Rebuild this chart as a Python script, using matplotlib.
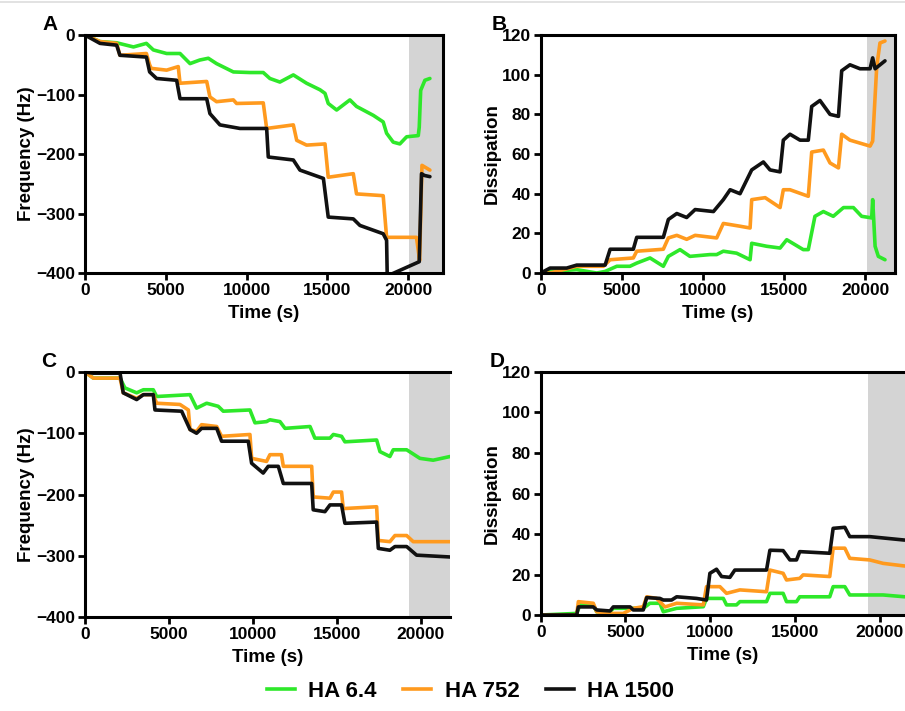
import matplotlib
matplotlib.use("Agg")
import matplotlib.pyplot as plt
from matplotlib.lines import Line2D

plt.rcParams['font.family'] = ['Liberation Sans', 'DejaVu Sans']
plt.rcParams['font.weight'] = 'bold'

GREEN = '#2ee82a'
ORANGE = '#ff9a1e'
BLACK = '#111111'
SHADE = '#d4d4d4'

# ---------------- Panel A : frequency ----------------
a_green_t = [0, 930, 1960, 3000, 3800, 4230, 5050, 5880, 6500, 7100, 7630, 8140, 9180, 10200,
             11030, 11440, 12060, 12890, 13710, 14540, 14850, 15050, 15570, 16390, 16800,
             17840, 18450, 18660, 19070, 19480, 19900, 20620, 20680, 20770, 21030, 21340]
a_green_f = [0, -11, -13, -20, -14, -25, -31, -31, -48, -42, -39, -48, -62, -63,
             -63, -73, -79, -67, -81, -92, -98, -115, -126, -109, -120,
             -135, -146, -165, -180, -183, -171, -169, -155, -93, -76, -73]

a_orange_t = [0, 930, 1960, 2160, 3800, 4000, 4100, 5050, 5770, 5880, 7530, 7730, 8140, 9180,
              9380, 11030, 11240, 12890, 13100, 13710, 14850, 15050, 16600, 16800, 18450,
              18660, 20510, 20620, 20700, 20850, 21340]
a_orange_f = [0, -11, -14, -34, -31, -50, -56, -59, -53, -81, -78, -104, -112, -109,
              -115, -114, -157, -151, -177, -185, -183, -239, -233, -267, -270,
              -340, -340, -362, -379, -219, -227]

a_black_t = [0, 930, 1960, 2160, 3800, 4000, 4430, 5670, 5880, 7530, 7730, 8350, 9590, 11240,
             11340, 12890, 13300, 14750, 15050, 16600, 17010, 18450, 18660, 18700, 20680,
             20820, 21000, 21340]
a_black_f = [0, -14, -17, -34, -37, -62, -73, -76, -107, -107, -132, -151, -157, -157,
             -205, -210, -227, -241, -306, -309, -320, -334, -345, -405, -381,
             -233, -236, -238]

# ---------------- Panel B : dissipation ----------------
b_green_t = [0, 575, 2220, 3450, 3970, 4690, 5500, 5920, 6740, 7560, 7870, 8590, 9200, 10440,
             10850, 11260, 12080, 12910, 13010, 13930, 14760, 15170, 16190, 16500, 16910,
             17430, 18040, 18670, 19280, 19790, 20410, 20470, 20620, 20820, 21230]
b_green_d = [0, 0.8, 1.7, 0, 0.8, 3.4, 3.4, 5, 7.6, 3.4, 8.4, 11.8, 8.4, 9.3,
             9.3, 11, 10, 6.7, 15, 13.5, 12.6, 16.8, 11.8, 11.8, 28.6,
             31, 28.6, 33, 33, 28.6, 27.8, 37, 13.5, 8.4, 6.7]

b_orange_t = [0, 575, 2220, 3860, 4280, 5710, 5920, 7560, 7870, 8390, 9000, 9520, 10850, 11260,
              12290, 12910, 13010, 13840, 14760, 14960, 15370, 16500, 16710, 17430, 17840,
              18360, 18560, 19070, 20310, 20470, 20720, 20920, 21230]
b_orange_d = [0, 0, 3.4, 3.4, 6.7, 7.6, 11, 12, 17.7, 19, 17, 19, 17.7, 25,
              23.6, 22.7, 37, 38, 33, 42, 42, 38.7, 61, 62, 55.5,
              53, 70, 67, 64, 66.5, 104, 116, 117]

b_black_t = [0, 575, 1600, 2220, 3450, 3970, 4280, 5710, 5920, 7560, 7870, 8390, 9000, 9520,
             10650, 11260, 11680, 12290, 13010, 13730, 14140, 14760, 14960, 15370, 15990,
             16500, 16710, 17220, 17840, 18360, 18560, 19070, 19690, 20310, 20470, 20620, 21230]
b_black_d = [0, 2.5, 2.5, 4, 4, 4, 12, 12, 18, 18, 27, 30, 28, 32,
             31, 37, 42, 40, 52, 56, 52, 51, 67, 70, 67,
             67, 84, 87, 80, 79, 102, 105, 103, 103, 108.5, 103, 107]

# ---------------- Panel C : frequency ----------------
c_green_t = [0, 500, 2090, 2380, 3080, 3480, 4070, 4270, 6260, 6650, 7250, 7940, 8240, 9830,
             10130, 10820, 11020, 11620, 11920, 13410, 13700, 14600, 14800, 15290, 15490,
             17380, 17580, 18170, 18370, 19170, 19960, 20750, 21750]
c_green_f = [0, -10, -10, -26, -34, -29, -29, -40, -37, -59, -51, -56, -64, -62,
             -83, -81, -78, -81, -92, -89, -108, -108, -102, -105, -114,
             -111, -130, -138, -127, -127, -141, -144, -138]

c_orange_t = [0, 500, 2090, 2280, 3080, 3480, 4070, 4270, 5660, 6160, 6260, 6650, 6950, 7850,
              8140, 9830, 9930, 10820, 11020, 11710, 11820, 13510, 13600, 14600, 14800,
              15290, 15390, 17380, 17480, 18170, 18470, 19170, 19560, 21750]
c_orange_f = [0, -10, -10, -34, -43, -37, -37, -51, -53, -62, -94, -97, -86, -89,
              -105, -102, -141, -146, -135, -135, -154, -154, -204, -206, -196,
              -196, -223, -220, -275, -277, -267, -267, -277, -277]

c_black_t = [0, 500, 2090, 2280, 3080, 3480, 4070, 4170, 5760, 6260, 6650, 6950, 7850, 8140,
             9730, 9930, 10620, 10920, 11520, 11820, 13510, 13600, 14300, 14600, 15290,
             15490, 17380, 17480, 18170, 18470, 19170, 19760, 21750]
c_black_f = [0, -2, -2, -34, -45, -37, -37, -62, -64, -94, -100, -92, -92, -113,
             -113, -149, -165, -154, -154, -182, -182, -225, -228, -217, -217,
             -247, -245, -288, -291, -285, -285, -299, -302]

# ---------------- Panel D : dissipation ----------------
d_green_t = [0, 2120, 2320, 3100, 3300, 4090, 4280, 6050, 6440, 7030, 7230, 8020, 9590, 9780,
             10770, 10960, 11550, 11750, 13320, 13520, 14300, 14500, 15090, 15280, 17050,
             17250, 17940, 18230, 20200, 21470]
d_green_d = [0, 0.8, 5, 5, 1.6, 1.6, 3.3, 3.3, 5.8, 5.8, 1.6, 3.3, 4.1, 8.2,
             8.2, 5, 5, 6.6, 6.6, 10.7, 10.7, 6.6, 6.6, 9, 9,
             14, 14, 9.9, 9.9, 9]

d_orange_t = [0, 2120, 2220, 3100, 3300, 4090, 4870, 5460, 6050, 6250, 6840, 7330, 8020, 9590,
              9780, 10570, 10960, 11750, 13320, 13520, 14300, 14500, 15280, 15480, 17050,
              17250, 17940, 18230, 19410, 20200, 21470]
d_orange_d = [0, 0, 6.6, 5.8, 1.6, 0.8, 0.8, 3.3, 4.1, 9, 8.2, 4, 5.8, 5,
              14, 14, 10.7, 12.4, 11.5, 22.2, 20.6, 17.3, 18.1, 19.8, 19,
              33, 33, 28, 27.2, 25.5, 24.2]

d_black_t = [0, 2120, 2220, 3100, 3300, 4090, 4280, 5270, 5460, 6050, 6250, 7030, 7230, 7720,
             8020, 9190, 9780, 9980, 10370, 10670, 11160, 11450, 13320, 13520, 14300,
             14700, 15090, 15280, 17050, 17250, 17940, 18230, 19410, 21470]
d_black_d = [0, 0, 4, 4, 2.5, 2, 4, 4, 2.5, 2.5, 8.6, 8.2, 7.4, 7.4,
             9, 8.2, 7.4, 20.6, 22.6, 19, 18.6, 22.2, 22.2, 32, 31.8,
             27.2, 27.2, 31.3, 30.5, 42.8, 43.3, 38.7, 38.7, 37]

labels = ['HA 6.4', 'HA 752', 'HA 1500']

fig = plt.figure(figsize=(9.05, 7.11), dpi=100)
fig.add_artist(Line2D([0, 1], [0.997, 0.997], color='#dddddd', lw=1.2))


def style_axes(ax, xmax, ylim, yticks, ylabel, shade_from, hide_right=False):
    ax.axvspan(shade_from, xmax + 1000, color=SHADE, zorder=0, lw=0)
    ax.set_xlim(0, xmax)
    ax.set_ylim(*ylim)
    ax.set_xticks([0, 5000, 10000, 15000, 20000])
    ax.set_yticks(yticks)
    for sp in ax.spines.values():
        sp.set_linewidth(2.2)
    if hide_right:
        ax.spines['right'].set_visible(False)
    ax.tick_params(direction='out', length=5, width=2, labelsize=12.5, pad=2)
    for lab in ax.get_xticklabels() + ax.get_yticklabels():
        lab.set_fontweight('bold')
    ax.set_xlabel('Time (s)', fontsize=13.5, fontweight='bold', labelpad=5)
    ax.set_ylabel(ylabel, fontsize=13.5, fontweight='bold', labelpad=1)


def draw(ax, series):
    for (t, v), c in zip(series, [GREEN, ORANGE, BLACK]):
        ax.plot(t, v, color=c, lw=2.6, solid_joinstyle='round', solid_capstyle='round')


axA = fig.add_axes([0.0939, 0.616, 0.3956, 0.3347])
draw(axA, [(a_green_t, a_green_f), (a_orange_t, a_orange_f), (a_black_t, a_black_f)])
style_axes(axA, 22150, (-400, 0), [0, -100, -200, -300, -400], 'Frequency (Hz)', 20050)

axB = fig.add_axes([0.5975, 0.616, 0.3915, 0.3347])
draw(axB, [(b_green_t, b_green_d), (b_orange_t, b_orange_d), (b_black_t, b_black_d)])
style_axes(axB, 21850, (0, 120), [0, 20, 40, 60, 80, 100, 120], 'Dissipation', 20150)

axC = fig.add_axes([0.0939, 0.1322, 0.4033, 0.3446])
draw(axC, [(c_green_t, c_green_f), (c_orange_t, c_orange_f), (c_black_t, c_black_f)])
style_axes(axC, 21750, (-400, 0), [0, -100, -200, -300, -400], 'Frequency (Hz)', 19330, True)

axD = fig.add_axes([0.5975, 0.135, 0.4025, 0.3418])
draw(axD, [(d_green_t, d_green_d), (d_orange_t, d_orange_d), (d_black_t, d_black_d)])
style_axes(axD, 21490, (0, 120), [0, 20, 40, 60, 80, 100, 120], 'Dissipation', 19300, True)

for ax, letter, xoff in [(axA, 'A', -0.12), (axB, 'B', -0.14), (axC, 'C', -0.12), (axD, 'D', -0.14)]:
    ax.text(xoff, 1.005, letter, transform=ax.transAxes, fontsize=15, fontweight='bold',
            va='bottom', ha='left')

handles = [Line2D([], [], color=c, lw=2.6) for c in [GREEN, ORANGE, BLACK]]
fig.legend(handles, labels, loc='center', bbox_to_anchor=(0.52, 0.028), ncol=3, frameon=False,
           prop={'size': 16, 'weight': 'bold'}, handlelength=1.25, columnspacing=1.2,
           handletextpad=0.6)

fig.savefig('out.png', dpi=100)
